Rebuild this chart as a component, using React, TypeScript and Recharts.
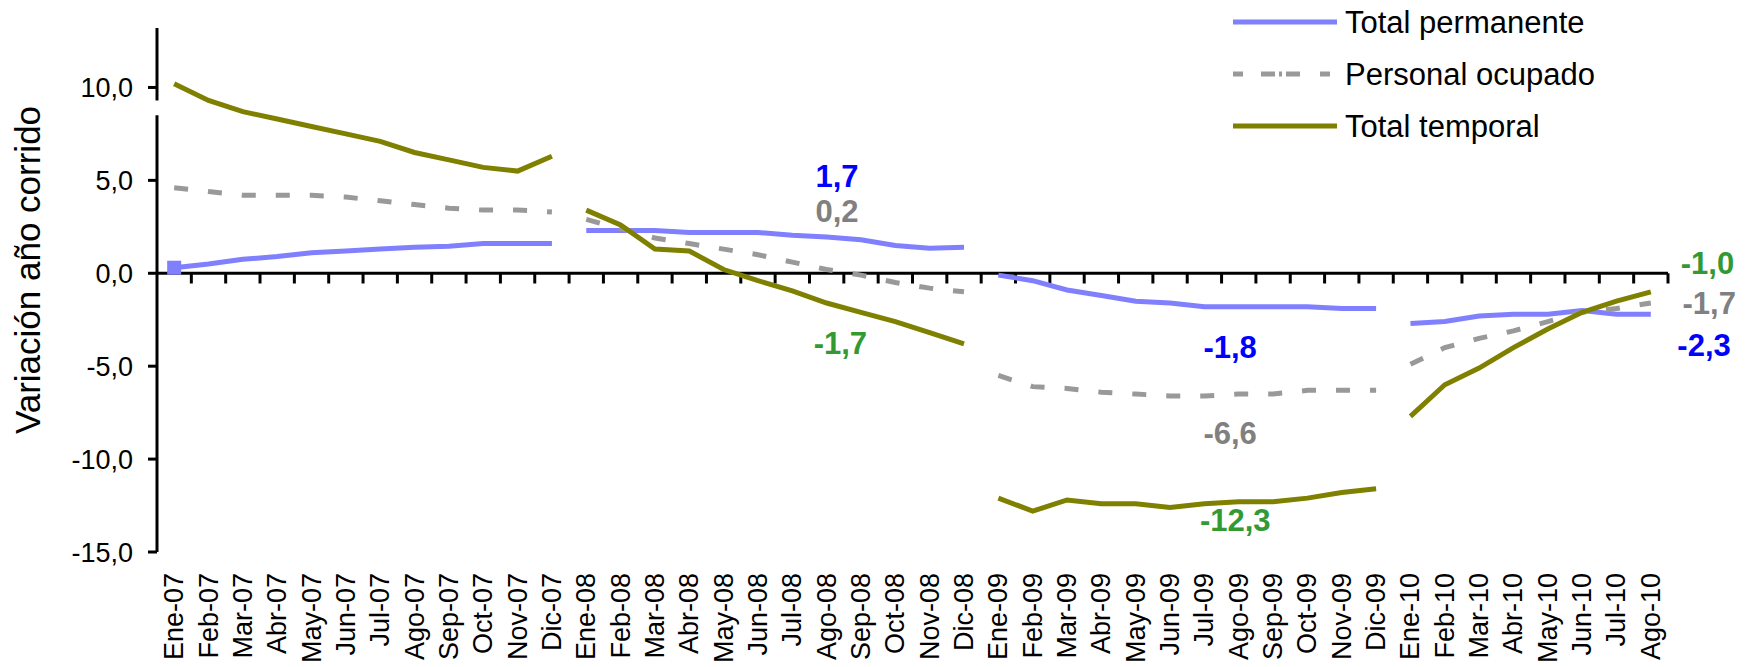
import { LineChart, Line, XAxis, YAxis, ReferenceLine, ReferenceDot, Legend } from "recharts";

const FONT = '"Liberation Sans", Arial, sans-serif';

const months = [
  "Ene-07", "Feb-07", "Mar-07", "Abr-07", "May-07", "Jun-07", "Jul-07", "Ago-07", "Sep-07", "Oct-07", "Nov-07", "Dic-07",
  "Ene-08", "Feb-08", "Mar-08", "Abr-08", "May-08", "Jun-08", "Jul-08", "Ago-08", "Sep-08", "Oct-08", "Nov-08", "Dic-08",
  "Ene-09", "Feb-09", "Mar-09", "Abr-09", "May-09", "Jun-09", "Jul-09", "Ago-09", "Sep-09", "Oct-09", "Nov-09", "Dic-09",
  "Ene-10", "Feb-10", "Mar-10", "Abr-10", "May-10", "Jun-10", "Jul-10", "Ago-10",
];

// variación año corrido, %
const permanente = [
  0.3, 0.5, 0.75, 0.9, 1.1, 1.2, 1.3, 1.4, 1.45, 1.6, 1.6, 1.6,
  2.3, 2.3, 2.3, 2.2, 2.2, 2.2, 2.05, 1.95, 1.8, 1.5, 1.35, 1.4,
  -0.1, -0.4, -0.9, -1.2, -1.5, -1.6, -1.8, -1.8, -1.8, -1.8, -1.9, -1.9,
  -2.7, -2.6, -2.3, -2.2, -2.2, -2.0, -2.2, -2.2,
];

const ocupado = [
  4.6, 4.4, 4.2, 4.2, 4.2, 4.1, 3.9, 3.7, 3.5, 3.4, 3.4, 3.3,
  2.9, 2.4, 1.9, 1.6, 1.3, 1.0, 0.6, 0.2, -0.1, -0.5, -0.8, -1.0,
  -5.5, -6.1, -6.2, -6.4, -6.5, -6.6, -6.6, -6.5, -6.5, -6.3, -6.3, -6.3,
  -4.9, -4.0, -3.5, -3.1, -2.6, -2.1, -1.9, -1.6,
];

const temporal = [
  10.2, 9.3, 8.7, 8.3, 7.9, 7.5, 7.1, 6.5, 6.1, 5.7, 5.5, 6.3,
  3.4, 2.6, 1.3, 1.2, 0.2, -0.4, -0.95, -1.6, -2.1, -2.6, -3.2, -3.8,
  -12.1, -12.8, -12.2, -12.4, -12.4, -12.6, -12.4, -12.3, -12.3, -12.1, -11.8, -11.6,
  -7.7, -6.0, -5.1, -4.0, -3.0, -2.1, -1.5, -1.0,
];

const yTicks = [-15, -10, -5, 0, 5, 10];

const notes = [
  { text: "1,7", x: 19.3, y: 5.2, color: "#0000ff" },
  { text: "0,2", x: 19.3, y: 3.3, color: "#808080" },
  { text: "-1,7", x: 19.4, y: -3.8, color: "#339933" },
  { text: "-1,8", x: 30.75, y: -4.0, color: "#0000ff" },
  { text: "-6,6", x: 30.75, y: -8.6, color: "#808080" },
  { text: "-12,3", x: 30.9, y: -13.3, color: "#339933" },
  { text: "-1,0", x: 44.65, y: 0.5, color: "#339933" },
  { text: "-1,7", x: 44.7, y: -1.6, color: "#808080" },
  { text: "-2,3", x: 44.55, y: -3.9, color: "#0000ff" },
];

const series = [
  { key: "permanente", name: "Total permanente", color: "#8080ff", dash: undefined },
  { key: "ocupado", name: "Personal ocupado", color: "#999999", dash: "14 20" },
  { key: "temporal", name: "Total temporal", color: "#808000", dash: undefined },
];

// one row per month, with an empty row after each December so every year is its own segment
const rows: any[] = [];
months.forEach((m, i) => {
  rows.push({ x: i, permanente: permanente[i], ocupado: ocupado[i], temporal: temporal[i] });
  if (i % 12 === 11) rows.push({ x: i + 0.5, permanente: null, ocupado: null, temporal: null });
});

const fmt = (v: number) => v.toFixed(1).replace(".", ",");

function MonthTick({ x, y, payload }: any) {
  return (
    <text
      x={x}
      y={y}
      transform={`rotate(-90 ${x} ${y})`}
      textAnchor="end"
      dominantBaseline="central"
      fontSize={27}
      fontFamily={FONT}
      fill="#000"
    >
      {months[payload.value]}
    </text>
  );
}

function YLabel({ viewBox }: any) {
  const cx = viewBox.x + 27;
  const cy = viewBox.y + viewBox.height / 2 - 20;
  return (
    <text
      x={cx}
      y={cy}
      transform={`rotate(-90 ${cx} ${cy})`}
      textAnchor="middle"
      dominantBaseline="central"
      fontSize={35}
      fontFamily={FONT}
      fill="#000"
    >
      Variación año corrido
    </text>
  );
}

function LegendBox() {
  return (
    <svg width={520} height={160}>
      {series.map((s, i) => {
        const y = 22 + i * 52;
        return (
          <g key={s.key}>
            <line
              x1={8}
              x2={112}
              y1={y}
              y2={y}
              stroke={s.color}
              strokeWidth={5}
              strokeDasharray={s.dash ? "10 18 14 4 3 4 14 20 10" : undefined}
            />
            <text x={120} y={y} dominantBaseline="central" fontSize={31} fontFamily={FONT} fill="#000">
              {s.name}
            </text>
          </g>
        );
      })}
    </svg>
  );
}

function SquareDot({ cx, cy, index }: any) {
  if (index !== 0 || cx == null) return <g key={`d${index}`} />;
  return <rect key="d0" x={cx - 7} y={cy - 7} width={14} height={14} fill="#8080ff" />;
}

export default function App() {
  return (
    <div style={{ position: "absolute", left: 0, top: 0, width: 1761, height: 667, background: "#fff" }}>
      <LineChart width={1761} height={667} data={rows} margin={{ top: 28, right: 93, bottom: 0, left: 0 }}>
        <XAxis
          dataKey="x"
          type="number"
          domain={[-0.5, 43.5]}
          ticks={months.map((_, i) => i)}
          interval={0}
          axisLine={false}
          tickLine={false}
          tickSize={0}
          tickMargin={21}
          height={115}
          tick={<MonthTick />}
        />
        <YAxis
          type="number"
          domain={[-15, 13.2]}
          allowDataOverflow
          ticks={yTicks}
          tickFormatter={fmt}
          axisLine={false}
          tickLine={{ stroke: "#000", strokeWidth: 3 }}
          tickSize={9}
          tickMargin={15}
          width={157}
          tick={{ fill: "#000", fontSize: 27, fontFamily: FONT }}
          label={<YLabel />}
        />
        {/* middle/center keeps the legend out of the plot layout; placed by wrapperStyle */}
        <Legend
          verticalAlign="middle"
          align="center"
          content={<LegendBox />}
          wrapperStyle={{ position: "absolute", top: 0, left: 1225, width: 520, height: 160 }}
        />
        {/* y axis drawn in two pieces to show the scale break */}
        <ReferenceLine segment={[{ x: -0.5, y: -15 }, { x: -0.5, y: 8.5 }]} stroke="#000" strokeWidth={3} />
        <ReferenceLine segment={[{ x: -0.5, y: 9.3 }, { x: -0.5, y: 13.2 }]} stroke="#000" strokeWidth={3} />
        {/* category axis crosses at zero */}
        <ReferenceLine y={0} stroke="#000" strokeWidth={3} />
        {months.map((m, i) => (
          <ReferenceLine
            key={m}
            segment={[{ x: i + 0.5, y: 0 }, { x: i + 0.5, y: -0.55 }]}
            stroke="#000"
            strokeWidth={3}
          />
        ))}
        <Line
          dataKey="permanente"
          name="Total permanente"
          stroke="#8080ff"
          strokeWidth={5}
          dot={<SquareDot />}
          activeDot={false}
          isAnimationActive={false}
        />
        <Line
          dataKey="ocupado"
          name="Personal ocupado"
          stroke="#999999"
          strokeWidth={5}
          strokeDasharray="14 20"
          dot={false}
          activeDot={false}
          isAnimationActive={false}
        />
        <Line
          dataKey="temporal"
          name="Total temporal"
          stroke="#808000"
          strokeWidth={5}
          dot={false}
          activeDot={false}
          isAnimationActive={false}
        />
        {notes.map((n, i) => (
          <ReferenceDot
            key={i}
            x={n.x}
            y={n.y}
            ifOverflow="visible"
            shape={(p: any) => (
              <text
                x={p.cx}
                y={p.cy}
                textAnchor="middle"
                dominantBaseline="central"
                fontSize={31}
                fontWeight="bold"
                fontFamily={FONT}
                fill={n.color}
              >
                {n.text}
              </text>
            )}
          />
        ))}
      </LineChart>
    </div>
  );
}
